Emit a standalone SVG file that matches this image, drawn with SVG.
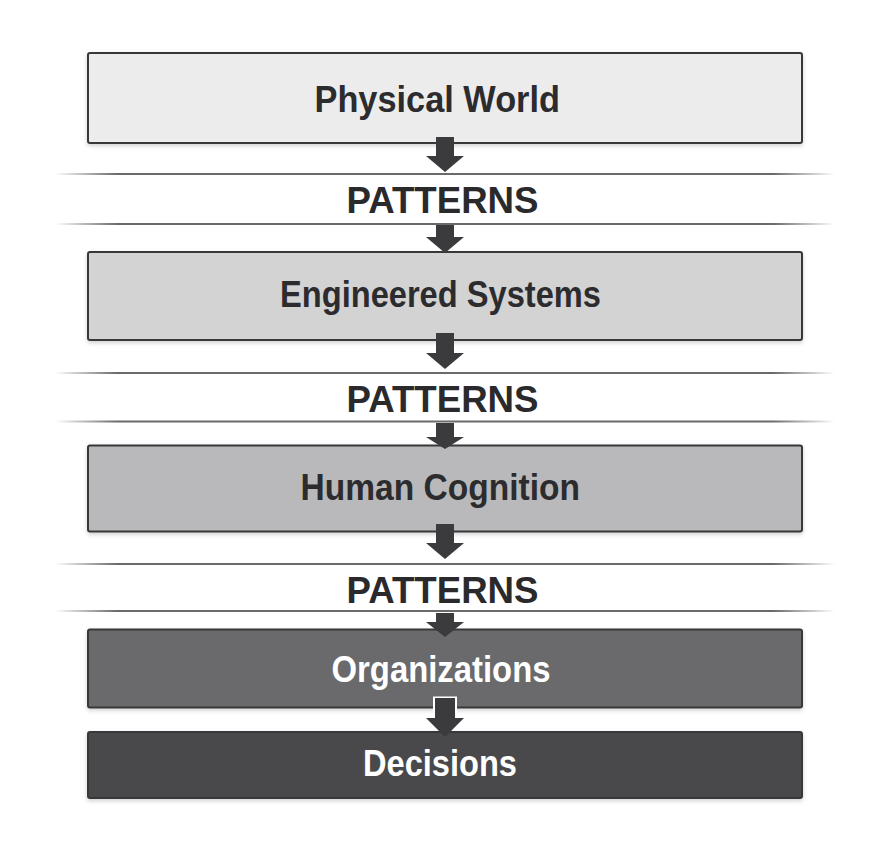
<svg xmlns="http://www.w3.org/2000/svg" width="892" height="863" viewBox="0 0 892 863">
  <style>
    .box { stroke: #38383a; stroke-width: 2; }
    .lbl { font-family: "Liberation Sans", Arial, sans-serif; font-weight: bold; font-size: 37px; }
    .dark { fill: #2c2c2e; }
    .light { fill: #ffffff; }
    .pat { font-family: "Liberation Sans", Arial, sans-serif; font-weight: bold; font-size: 36px; fill: #2a2a2c; }
    .sep { stroke: url(#fade); stroke-width: 2; fill: none; }
    .arrow { fill: #3b3b3d; }
  </style>
  <defs>
    <linearGradient id="fade" gradientUnits="userSpaceOnUse" x1="55" y1="0" x2="835" y2="0">
      <stop offset="0" stop-color="#6a6a6a" stop-opacity="0"/>
      <stop offset="0.08" stop-color="#6a6a6a" stop-opacity="1"/>
      <stop offset="0.92" stop-color="#6a6a6a" stop-opacity="1"/>
      <stop offset="1" stop-color="#6a6a6a" stop-opacity="0"/>
    </linearGradient>
    <filter id="sh" x="-5%" y="-20%" width="110%" height="150%">
      <feDropShadow dx="0" dy="2" stdDeviation="2" flood-color="#000" flood-opacity="0.18"/>
    </filter>
  </defs>
  <rect width="892" height="863" fill="#ffffff"/>

  <g id="separators">
    <line class="sep" x1="55" y1="174" x2="835" y2="174"/>
    <line class="sep" x1="55" y1="224" x2="835" y2="224"/>
    <line class="sep" x1="55" y1="373" x2="835" y2="373"/>
    <line class="sep" x1="55" y1="421.5" x2="835" y2="421.5"/>
    <line class="sep" x1="55" y1="564" x2="835" y2="564"/>
    <line class="sep" x1="55" y1="611" x2="835" y2="611"/>
  </g>

  <g id="node-physical-world">
    <rect class="box" x="88" y="53" width="714" height="90" rx="2" fill="#ececed" filter="url(#sh)"/>
    <text class="lbl dark" x="314.5" y="112" textLength="245.5" lengthAdjust="spacingAndGlyphs" font-size="38">Physical World</text>
  </g>

  <g id="patterns-1">
    <text class="pat" x="346.5" y="213" textLength="192" lengthAdjust="spacingAndGlyphs">PATTERNS</text>
  </g>

  <g id="node-engineered-systems">
    <rect class="box" x="88" y="252" width="714" height="88" rx="2" fill="#d3d3d4" filter="url(#sh)"/>
    <text class="lbl dark" x="280" y="306.5" textLength="321" lengthAdjust="spacingAndGlyphs">Engineered Systems</text>
  </g>

  <g id="patterns-2">
    <text class="pat" x="346.5" y="411.5" textLength="192" lengthAdjust="spacingAndGlyphs">PATTERNS</text>
  </g>

  <g id="node-human-cognition">
    <rect class="box" x="88" y="445.5" width="714" height="86" rx="2" fill="#b9b9bb" filter="url(#sh)"/>
    <text class="lbl dark" x="300.5" y="500" textLength="279.5" lengthAdjust="spacingAndGlyphs">Human Cognition</text>
  </g>

  <g id="patterns-3">
    <text class="pat" x="346.5" y="602.5" textLength="192" lengthAdjust="spacingAndGlyphs">PATTERNS</text>
  </g>

  <g id="node-organizations">
    <rect class="box" x="88" y="629.5" width="714" height="78" rx="2" fill="#6b6b6d" filter="url(#sh)"/>
    <text class="lbl light" x="331.5" y="681.5" textLength="219" lengthAdjust="spacingAndGlyphs">Organizations</text>
  </g>

  <g id="node-decisions">
    <rect class="box" x="88" y="732" width="714" height="66" rx="2" fill="#4a4a4c" filter="url(#sh)"/>
    <text class="lbl light" x="363" y="775.5" textLength="154" lengthAdjust="spacingAndGlyphs" font-size="35">Decisions</text>
  </g>

  <g id="connectors">
    <polygon class="arrow" points="436,137 454,137 454,156 464,156 445,172 426,156 436,156"/>
    <polygon class="arrow" points="436,225 454,225 454,237 464,237 445,253 426,237 436,237"/>
    <polygon class="arrow" points="436,333 454,333 454,353 464,353 445,369 426,353 436,353"/>
    <polygon class="arrow" points="436,423 454,423 454,437 464,437 445,449 426,437 436,437"/>
    <polygon class="arrow" points="436,524 454,524 454,543 464,543 445,559 426,543 436,543"/>
    <polygon class="arrow" points="436,613 454,613 454,622 464,622 445,637 426,622 436,622"/>
    <rect x="433" y="696.5" width="24" height="22" fill="#ffffff"/>
    <polygon class="arrow" points="435,698 455,698 455,718 464,718 445,737 426,718 435,718"/>
  </g>
</svg>
